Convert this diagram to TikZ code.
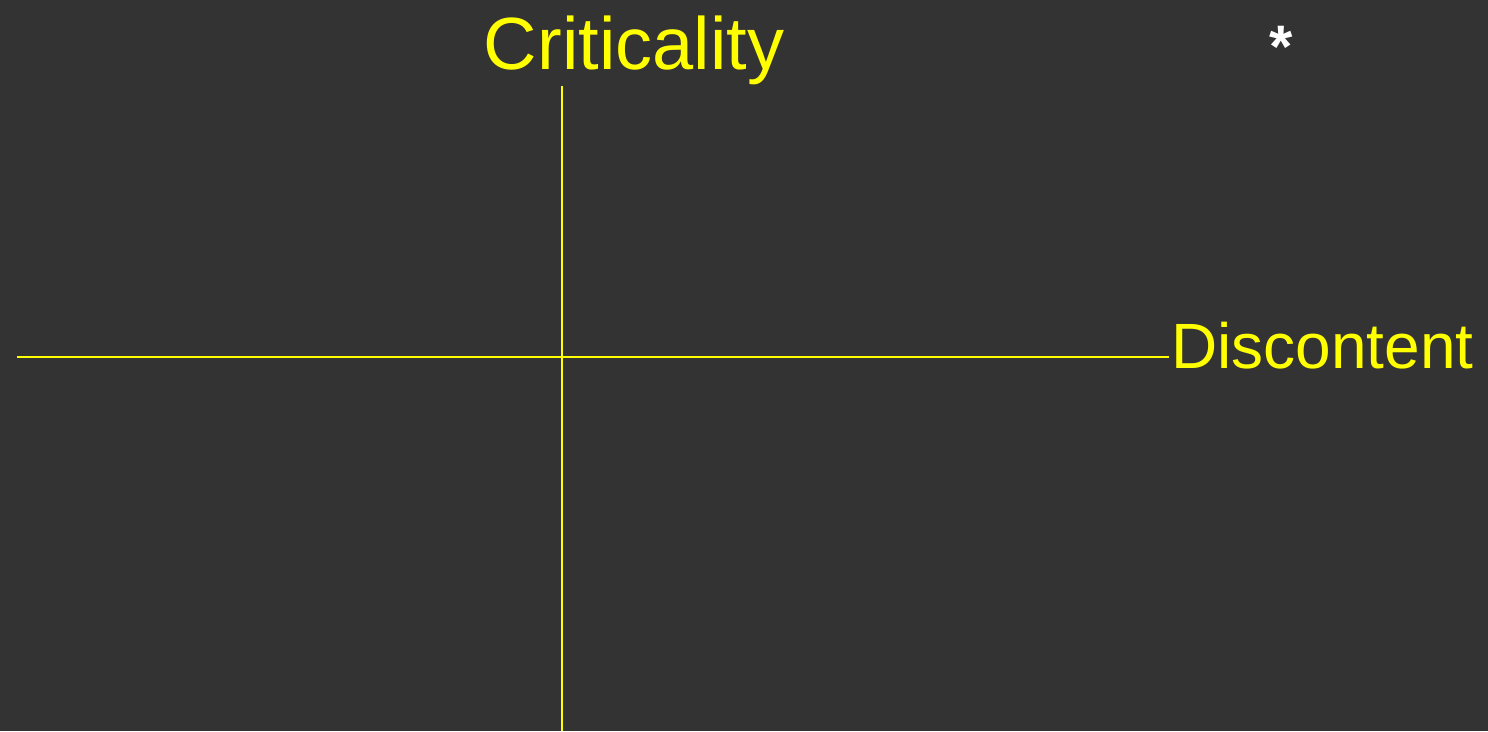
\documentclass[tikz,border=0pt]{standalone}
\usepackage{fontspec}
\setmainfont{Liberation Sans}
\definecolor{bg}{HTML}{333333}
\definecolor{ax}{HTML}{FFFF00}
\begin{document}
\begin{tikzpicture}[x=1pt,y=-1pt,
  axisline/.style={draw=ax,line width=2pt},
  biglabel/.style={text=ax,inner sep=0pt,font=\fontsize{74}{80}\selectfont},
  sidelabel/.style={text=ax,inner sep=0pt,font=\fontsize{64}{70}\selectfont},
  starlabel/.style={text=white,inner sep=0pt,font=\bfseries\fontsize{60}{70}\selectfont}]
\fill[bg] (0,0) rectangle (1488,731);
\useasboundingbox (0,0) rectangle (1488,731);
\coordinate (hl) at (17,357);
\coordinate (hr) at (1169,357);
\coordinate (vt) at (562,86);
\coordinate (vb) at (562,731);
\draw[axisline] (hl) -- (hr);
\draw[axisline] (vt) -- (vb);
\node[biglabel,anchor=base] (crit) at (634,69) {Criticality};
\node[sidelabel,anchor=base west] (disc) at (1171,368) {Discontent};
\node[starlabel,anchor=base] (star) at (1281,67) {*};
\end{tikzpicture}
\end{document}
